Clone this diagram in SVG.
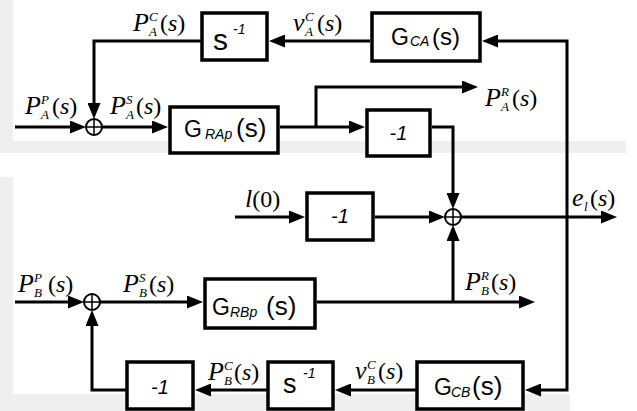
<svg xmlns="http://www.w3.org/2000/svg" width="637" height="411" viewBox="0 0 637 411">
<defs>
<marker id="ah" markerUnits="userSpaceOnUse" markerWidth="16" markerHeight="13" refX="8" refY="6.5" orient="auto" viewBox="0 0 16 13">
<path d="M0,0 L16,6.5 L0,13 Z" fill="#000"/>
</marker>
<style>
.wm{fill:#efefef}
.box{fill:#fff;stroke:#000;stroke-width:3.5}
.ln{fill:none;stroke:#000;stroke-width:3;marker-end:url(#ah)}
.sum circle{fill:#fff;stroke:#000;stroke-width:2}
.sum path{stroke:#000;stroke-width:1.5;fill:none}
.b{font-family:"Liberation Sans",Arial,sans-serif;font-size:23px;fill:#000}
.bi{font-style:italic;font-size:14px}
.n1{font-family:"Liberation Sans",Arial,sans-serif;font-size:20px;font-style:italic;text-anchor:middle}
.m{font-family:"Liberation Serif","Times New Roman",serif;font-size:26px;font-style:italic;fill:#000}
.ms{font-size:13px}
.p{font-size:24px}
.r{font-style:normal}
</style>
</defs>
<rect width="637" height="411" fill="#fff"/>
<g id="watermark">
<rect class="wm" x="0" y="0" width="13" height="153"/>
<rect class="wm" x="13" y="141" width="613" height="12"/>
<rect class="wm" x="0" y="177" width="13" height="217"/>
<rect class="wm" x="0" y="394" width="570" height="17"/>
</g>

<g id="connectors">
<path class="ln" d="M567,215 V41 H490"/>
<path class="ln" d="M567,215 V390 H533"/>
<path class="ln" d="M370,41 H277"/>
<path class="ln" d="M201,41 H94 V111"/>
<path class="ln" d="M15,127 H78"/>
<path class="ln" d="M102,127 H160"/>
<path class="ln" d="M280,127 H357"/>
<path class="ln" d="M316,127 V87 H470"/>
<path class="ln" d="M432,127 H453 V201"/>
<path class="ln" d="M235,217 H297"/>
<path class="ln" d="M375,217 H437"/>
<path class="ln" d="M461,217 H609"/>
<path class="ln" d="M317,302 H527"/>
<path class="ln" d="M453,302 V233"/>
<path class="ln" d="M15,302 H76"/>
<path class="ln" d="M100,302 H195"/>
<path class="ln" d="M416,390 H343"/>
<path class="ln" d="M267,390 H203"/>
<path class="ln" d="M126,390 H92 V318"/>
</g>

<g id="sA"><rect class="box" x="202" y="13" width="65" height="47"/>
<text class="b"><tspan x="213" y="50" font-size="30">s</tspan><tspan class="bi" x="233" y="34">-1</tspan></text></g>
<g id="GCA"><rect class="box" x="372" y="13" width="108" height="48"/>
<text class="b"><tspan x="391" y="45">G</tspan><tspan class="bi" x="410" y="46" font-size="15">CA</tspan><tspan x="432" y="45" font-size="24">(s)</tspan></text></g>
<g id="GRAp"><rect class="box" x="170" y="107" width="108" height="46"/>
<text class="b"><tspan x="184" y="137">G</tspan><tspan class="bi" x="205" y="139">RAp</tspan><tspan x="236" y="137" font-size="26">(s)</tspan></text></g>
<g id="neg1"><rect class="box" x="367" y="110" width="63" height="46"/>
<text class="n1" x="398.5" y="140">-1</text></g>
<g id="neg2"><rect class="box" x="307" y="193" width="66" height="47"/>
<text class="n1" x="340" y="223">-1</text></g>
<g id="GRBp"><rect class="box" x="205" y="279" width="110" height="49"/>
<text class="b"><tspan x="212" y="315">G</tspan><tspan class="bi" x="230" y="317">RBp</tspan><tspan x="266" y="315" font-size="26">(s)</tspan></text></g>
<g id="neg3"><rect class="box" x="127" y="362" width="66" height="47"/>
<text class="n1" x="160" y="394">-1</text></g>
<g id="sB"><rect class="box" x="268" y="362" width="65" height="47"/>
<text class="b"><tspan x="283" y="393" font-size="27">s</tspan><tspan class="bi" x="303" y="378" font-size="13">-1</tspan></text></g>
<g id="GCB"><rect class="box" x="417" y="362" width="106" height="47"/>
<text class="b"><tspan x="434" y="395">G</tspan><tspan class="bi" x="451" y="397">CB</tspan><tspan x="472" y="395" font-size="26">(s)</tspan></text></g>

<g id="sum1" class="sum"><circle cx="94" cy="127" r="8"/><path d="M86,127 H102 M94,119 V135"/></g>
<g id="sum2" class="sum"><circle cx="453" cy="217" r="8"/><path d="M445,217 H461 M453,209 V225"/></g>
<g id="sum3" class="sum"><circle cx="92" cy="302" r="8"/><path d="M84,302 H100 M92,294 V310"/></g>

<g id="labels">
<text class="m"><tspan x="133" y="31">P</tspan><tspan class="ms" x="149" y="21">C</tspan><tspan class="ms" x="149" y="36">A</tspan><tspan class="r p" x="160" y="31">(</tspan><tspan class="p">s</tspan><tspan class="r p">)</tspan></text>
<text class="m"><tspan x="293" y="31">v</tspan><tspan class="ms" x="305" y="21">C</tspan><tspan class="ms" x="305" y="36">A</tspan><tspan class="r p" x="317" y="31">(</tspan><tspan class="p">s</tspan><tspan class="r p">)</tspan></text>
<text class="m"><tspan x="25" y="114">P</tspan><tspan class="ms" x="41" y="104">P</tspan><tspan class="ms" x="41" y="119">A</tspan><tspan class="r p" x="52" y="114">(</tspan><tspan class="p">s</tspan><tspan class="r p">)</tspan></text>
<text class="m"><tspan x="110" y="114">P</tspan><tspan class="ms" x="126" y="104">S</tspan><tspan class="ms" x="126" y="119">A</tspan><tspan class="r p" x="136" y="114">(</tspan><tspan class="p">s</tspan><tspan class="r p">)</tspan></text>
<text class="m"><tspan x="485" y="106">P</tspan><tspan class="ms" x="501" y="96">R</tspan><tspan class="ms" x="501" y="111">A</tspan><tspan class="r p" x="512" y="106">(</tspan><tspan class="p">s</tspan><tspan class="r p">)</tspan></text>
<text class="m"><tspan x="245" y="207">l</tspan><tspan class="r p">(0)</tspan></text>
<text class="m"><tspan x="572" y="206">e</tspan><tspan class="ms" x="584" y="211">l</tspan><tspan class="r p" x="590" y="206">(</tspan><tspan class="p">s</tspan><tspan class="r p">)</tspan></text>
<text class="m"><tspan x="18" y="292">P</tspan><tspan class="ms" x="34" y="282">P</tspan><tspan class="ms" x="34" y="297">B</tspan><tspan class="r p" x="48" y="292">(</tspan><tspan class="p">s</tspan><tspan class="r p">)</tspan></text>
<text class="m"><tspan x="123" y="292">P</tspan><tspan class="ms" x="139" y="282">S</tspan><tspan class="ms" x="139" y="297">B</tspan><tspan class="r p" x="149" y="292">(</tspan><tspan class="p">s</tspan><tspan class="r p">)</tspan></text>
<text class="m"><tspan x="465" y="290">P</tspan><tspan class="ms" x="481" y="280">R</tspan><tspan class="ms" x="481" y="295">B</tspan><tspan class="r p" x="491" y="290">(</tspan><tspan class="p">s</tspan><tspan class="r p">)</tspan></text>
<text class="m"><tspan x="208" y="380">P</tspan><tspan class="ms" x="224" y="370">C</tspan><tspan class="ms" x="224" y="385">B</tspan><tspan class="r p" x="234" y="380">(</tspan><tspan class="p">s</tspan><tspan class="r p">)</tspan></text>
<text class="m"><tspan x="355" y="379">v</tspan><tspan class="ms" x="367" y="369">C</tspan><tspan class="ms" x="367" y="384">B</tspan><tspan class="r p" x="378" y="379">(</tspan><tspan class="p">s</tspan><tspan class="r p">)</tspan></text>
</g>
</svg>
